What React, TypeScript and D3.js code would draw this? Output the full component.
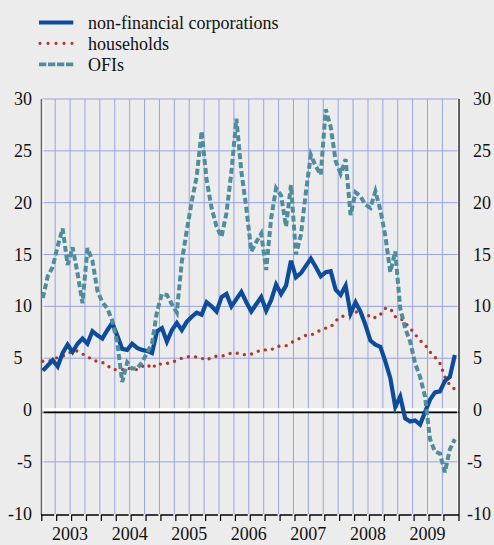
import React from "react";
import * as d3 from "d3";

// monthly, Jan 2003 - Dec 2009
const years = ["2003", "2004", "2005", "2006", "2007", "2008", "2009"];
const yTicks = [30, 25, 20, 15, 10, 5, 0, -5, -10];

const nfc = [
  3.8, 4.3, 4.8, 4.2, 5.5, 6.3, 5.6, 6.4, 6.9, 6.4, 7.6, 7.2,
  6.9, 7.7, 8.4, 7.2, 5.9, 5.8, 6.4, 6.0, 5.8, 5.7, 5.5, 7.6,
  7.9, 6.6, 7.7, 8.4, 7.7, 8.5, 9.0, 9.4, 9.2, 10.4, 10.0, 9.5,
  10.9, 11.2, 10.0, 10.7, 11.4, 10.4, 9.5, 10.2, 10.9, 9.6, 10.6, 12.1,
  11.2, 12.0, 14.4, 12.8, 13.2, 13.9, 14.6, 13.8, 12.9, 13.3, 13.4, 11.6,
  11.1, 12.0, 9.3, 10.4, 9.5, 8.2, 6.7, 6.3, 6.1, 4.7, 3.1, 0.3,
  1.3, -0.8, -1.1, -1.0, -1.4, -0.2, 1.0, 1.7, 1.8, 2.8, 3.2, 5.3,
];

const households = [
  4.7, 4.7, 4.8, 5.1, 5.2, 5.4, 5.7, 5.7, 5.4, 5.2, 4.8, 4.7,
  4.6, 4.3, 3.9, 3.9, 3.9, 4.1, 3.9, 3.9, 4.2, 4.4, 4.0, 4.5,
  4.4, 4.5, 4.6, 4.8, 5.0, 5.1, 5.2, 5.1, 5.0, 4.8, 5.1, 5.2,
  5.2, 5.3, 5.5, 5.5, 5.4, 5.3, 5.4, 5.6, 5.8, 5.8, 5.8, 6.1,
  6.2, 6.2, 6.5, 6.7, 7.0, 7.2, 7.2, 7.5, 7.7, 7.9, 8.0, 8.6,
  9.0, 9.1, 9.2, 9.5, 9.2, 8.9, 9.2, 8.9, 9.2, 9.8, 9.8, 9.0,
  8.9, 8.4, 7.9, 7.3, 6.7, 6.3, 5.6, 5.1, 4.5, 3.2, 2.4, 2.0,
];

const ofis = [
  10.8, 12.9, 13.8, 15.8, 17.5, 14.0, 15.7, 13.2, 10.3, 15.6, 14.4, 11.5,
  10.4, 9.8, 8.6, 6.5, 2.7, 4.6, 4.0, 4.0, 4.6, 5.5, 6.4, 9.5,
  11.2, 11.1, 10.2, 9.4, 14.3, 17.3, 20.1, 22.5, 26.9, 22.2, 19.5, 17.7,
  16.7, 19.0, 23.0, 28.1, 23.0, 19.5, 15.3, 16.2, 17.0, 13.5, 18.5, 21.4,
  20.7, 17.7, 21.7, 15.0, 16.9, 21.0, 24.6, 23.5, 22.7, 29.0, 27.3, 24.0,
  22.8, 24.2, 18.8, 21.0, 20.6, 19.8, 19.5, 21.1, 19.3, 16.8, 13.3, 15.3,
  9.8, 7.9, 6.6, 4.5, 3.2, 1.3, -2.8, -4.0, -4.2, -6.0, -3.8, -2.8,
];

const BG = "#ececec";
const GRID = "#99a3e2";
const BLUE = "#0d4c9b";
const RED = "#b3362c";
const TEAL = "#4f8d9c";
const FONT = "Liberation Serif";

const left = 42;
const right = 459;
const top = 99;
const bottom = 515;

export default function App() {
  const x = d3.scaleLinear().domain([0, 84]).range([40.3, 457.3]);
  const y = d3.scaleLinear().domain([-10, 30]).range([513.7, 99]);

  const line = d3
    .line<number>()
    .x((_, i) => x(i + 0.5))
    .y((d) => y(d));

  const quarters = d3.range(3, 84, 3);
  const txt = { fontFamily: FONT, fontSize: 18 };

  return (
    <svg
      width={494}
      height={545}
      style={{ position: "absolute", left: 0, top: 0, fontFamily: FONT }}
    >
      <rect width={494} height={545} fill={BG} />

      {/* horizontal grid */}
      {yTicks
        .filter((v) => v !== 0 && v !== -10)
        .map((v) => (
          <line key={v} x1={left} x2={right} y1={y(v)} y2={y(v)} stroke={GRID} strokeWidth={1} />
        ))}
      {/* vertical grid */}
      {quarters.map((q) => (
        <line key={q} x1={x(q)} x2={x(q)} y1={top} y2={bottom} stroke={GRID} strokeWidth={1} />
      ))}

      {/* zero line */}
      <line x1={left} x2={right} y1={y(0) - 0.5} y2={y(0) - 0.5} stroke="#fff" strokeWidth={2.5} />
      <line x1={left} x2={right} y1={y(0) + 2.3} y2={y(0) + 2.3} stroke="#000" strokeWidth={1.6} />

      {/* frame */}
      <line x1={left - 0.5} x2={left - 0.5} y1={top} y2={bottom} stroke="#666" strokeWidth={1.6} />
      <line x1={left + 1} x2={left + 1} y1={top} y2={bottom} stroke="#fff" strokeWidth={1} />
      <line x1={right - 1.2} x2={right - 1.2} y1={top} y2={bottom} stroke="#fff" strokeWidth={1} />
      <line x1={right} x2={right} y1={top} y2={bottom + 6} stroke="#000" strokeWidth={1.2} />

      {/* bottom axis */}
      <line x1={left - 1} x2={right} y1={bottom} y2={bottom} stroke="#000" strokeWidth={1.5} />
      {quarters.map((q) => (
        <rect key={"g" + q} x={x(q) - 1} y={bottom - 1} width={2} height={2.5} fill={BG} />
      ))}
      {[0, ...quarters].map((q) => (
        <line
          key={"t" + q}
          x1={x(q) + 1.5}
          x2={x(q) + 1.5}
          y1={bottom}
          y2={bottom + 6}
          stroke="#000"
          strokeWidth={1.2}
        />
      ))}
      {years.map((yr, i) => (
        <text key={yr} x={x(i * 12 + 6)} y={540} style={txt} textAnchor="middle" fill="#111">
          {yr}
        </text>
      ))}

      {/* y labels */}
      {yTicks.map((v) => (
        <text
          key={"l" + v}
          x={v === 5 ? 13.5 : 32}
          y={y(v) + 6}
          style={txt}
          textAnchor={v === 5 ? "start" : "end"}
          fill="#111"
        >
          {v}
        </text>
      ))}
      {yTicks.map((v) => (
        <text key={"r" + v} x={v < 0 ? 467 : 473} y={y(v) + 6} style={txt} textAnchor="start" fill="#111">
          {v}
        </text>
      ))}

      {/* series */}
      <path d={line(households) ?? ""} fill="none" stroke={RED} strokeWidth={3.4} strokeLinecap="round" strokeDasharray="0,7.3" />
      <path d={line(nfc) ?? ""} fill="none" stroke={BLUE} strokeWidth={4.2} strokeLinejoin="miter" />
      <path d={line(ofis) ?? ""} fill="none" stroke={TEAL} strokeWidth={4} strokeDasharray="6,3" />

      {/* legend */}
      <line x1={39} x2={73.3} y1={22.5} y2={22.5} stroke={BLUE} strokeWidth={3.8} />
      <text x={88} y={28.5} style={txt} fill="#111">non-financial corporations</text>
      <line x1={40} x2={73} y1={43.3} y2={43.3} stroke={RED} strokeWidth={3.2} strokeLinecap="round" strokeDasharray="0,8" />
      <text x={88} y={49.5} style={txt} fill="#111">households</text>
      <line x1={39} x2={73.3} y1={64.3} y2={64.3} stroke={TEAL} strokeWidth={3.8} strokeDasharray="7.3,1.7" />
      <text x={88} y={70.5} style={txt} fill="#111">OFIs</text>
    </svg>
  );
}
